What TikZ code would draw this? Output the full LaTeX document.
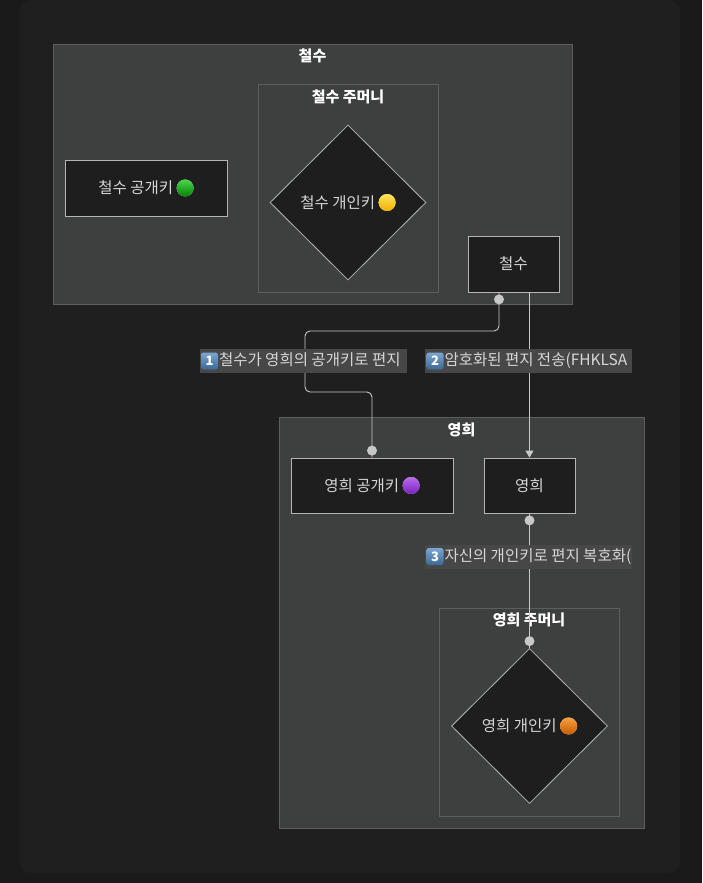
\documentclass[tikz,border=0pt]{standalone}
\usepackage{fontspec}
\setmainfont{Noto Sans CJK KR}
\usetikzlibrary{shapes.geometric,arrows.meta}
\definecolor{pagebg}{HTML}{1A1A1A}
\definecolor{framefill}{HTML}{1F1F1F}
\definecolor{clusterfill}{HTML}{3E403F}
\definecolor{clusterline}{HTML}{5E5E5E}
\definecolor{nodefill}{HTML}{1E1E1E}
\definecolor{nodeline}{HTML}{B4B4B4}
\definecolor{nodetext}{HTML}{D6D6D6}
\definecolor{linkc}{HTML}{C8C8C8}
\definecolor{lblfill}{HTML}{474747}
\definecolor{keytop}{HTML}{7AA6D2}
\definecolor{keybot}{HTML}{3E6894}
\definecolor{greentop}{HTML}{48D848}
\definecolor{greenbot}{HTML}{078207}
\definecolor{yellowtop}{HTML}{FFE45A}
\definecolor{yellowbot}{HTML}{F0B000}
\definecolor{purpletop}{HTML}{B86CF0}
\definecolor{purplebot}{HTML}{7A20C0}
\definecolor{orangetop}{HTML}{F5A040}
\definecolor{orangebot}{HTML}{C85A00}
\tikzset{keycapbox/.style={rounded corners=2.5pt,minimum size=17pt,inner sep=0pt,
  top color=keytop,bottom color=keybot,draw=none,text=white,
  font=\bfseries\fontsize{13pt}{13pt}\selectfont}}
\newcommand\keycap[1]{\tikz[baseline=(kc.base)]\node[keycapbox] (kc) {#1};\hspace{1pt}}
\newcommand\orb[2]{\tikz[baseline=-5.5pt]\fill[top color=#1,bottom color=#2] (0,0) circle (8.5pt);}

\begin{document}
\begin{tikzpicture}[x=1pt,y=-1pt,
  every node/.style={inner sep=0pt,text=nodetext,font=\fontsize{15.5pt}{18pt}\selectfont},
  box/.style={draw=nodeline,fill=nodefill,line width=0.8pt},
  keybox/.style={box,shape=diamond,minimum width=156pt,minimum height=155pt},
  cluster/.style={draw=clusterline,fill=clusterfill,line width=0.8pt},
  title/.style={text=white,font=\bfseries\fontsize{15pt}{18pt}\selectfont},
  link/.style={draw=linkc,line width=0.9pt,rounded corners=5pt},
  lblbox/.style={fill=lblfill,minimum width=207pt,minimum height=24pt},
  dot/.style={fill=linkc}]
\useasboundingbox[fill=pagebg] (0,0) rectangle (702,883);
\fill[framefill,rounded corners=12pt] (19,0) rectangle (680,873);

\draw (312.5,174) node[cluster,minimum width=519pt,minimum height=260pt] (cheolsu) {};
\draw (312.5,56) node[title] (cheolsutitle) {철수};
\draw (348,188) node[cluster,minimum width=180pt,minimum height=208pt] (cheolsupocket) {};
\draw (348,97) node[title] (cheolsupockettitle) {철수 주머니};
\draw (146,188) node[box,minimum width=162pt,minimum height=56pt] (cpub) {철수 공개키 \orb{greentop}{greenbot}};
\draw (348,202.5) node[keybox] (cpriv) {철수 개인키 \orb{yellowtop}{yellowbot}};
\draw (513.5,264) node[box,minimum width=91pt,minimum height=56pt] (chs) {철수};

\draw (461.5,622.5) node[cluster,minimum width=365pt,minimum height=411pt] (younghee) {};
\draw (461.5,430) node[title] (youngheetitle) {영희};
\draw (529,712) node[cluster,minimum width=180pt,minimum height=208pt] (youngheepocket) {};
\draw (529,620) node[title] (youngheepockettitle) {영희 주머니};
\draw (372,485.5) node[box,minimum width=162pt,minimum height=55pt] (ypub) {영희 공개키 \orb{purpletop}{purplebot}};
\draw (529.5,485.5) node[box,minimum width=91pt,minimum height=55pt] (yh) {영희};
\draw (529.5,726) node[keybox] (ypriv) {영희 개인키 \orb{orangetop}{orangebot}};

\draw[link] ([xshift=-14.5pt]chs.south) |- (305,331) |- (372,392) -- (ypub.north);
\draw[link,-{Triangle[width=8pt,length=7pt]}] ([xshift=16pt]chs.south) -- (yh.north);
\draw[link] (yh.south) -- (ypriv.north);
\fill[dot] ([xshift=-14.5pt,yshift=-7pt]chs.south) circle (5pt);
\fill[dot] ([yshift=7pt]ypub.north) circle (5pt);
\fill[dot] ([yshift=-7pt]yh.south) circle (5pt);
\fill[dot] ([yshift=7pt]ypriv.north) circle (5pt);

\draw (303.5,361) node[lblbox] (l1) {};
\begin{scope}
\clip (l1.south west) rectangle (l1.north east);
\draw ([xshift=1pt]l1.west) node[anchor=west] (t1) {\keycap{1}철수가 영희의 공개키로 편지};
\end{scope}
\draw (528.5,361) node[lblbox] (l2) {};
\begin{scope}
\clip (l2.south west) rectangle (l2.north east);
\draw ([xshift=1.5pt]l2.west) node[anchor=west] (t2) {\keycap{2}암호화된 편지 전송(FHKLSA};
\end{scope}
\draw (528.5,556.5) node[lblbox] (l3) {};
\begin{scope}
\clip (l3.south west) rectangle (l3.north east);
\draw ([xshift=1.5pt]l3.west) node[anchor=west] (t3) {\keycap{3}자신의 개인키로 편지 복호화(};
\end{scope}
\end{tikzpicture}
\end{document}
